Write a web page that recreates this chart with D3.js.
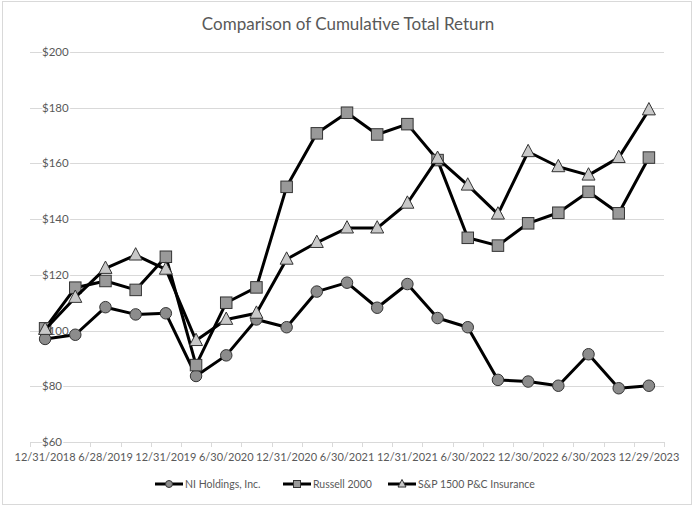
<!DOCTYPE html>
<html><head><meta charset="utf-8">
<script src="https://cdn.jsdelivr.net/npm/d3@7/dist/d3.min.js"></script>
<style>
body{margin:0;background:#fff;}
svg{display:block;font-family:Lato,"Open Sans",sans-serif;}
</style></head>
<body><svg id="c" width="694" height="508"></svg>
<script>
const dates = ["12/31/2018","3/29/2019","6/28/2019","9/30/2019","12/31/2019","3/31/2020","6/30/2020","9/30/2020","12/31/2020","3/31/2021","6/30/2021","9/30/2021","12/31/2021","3/31/2022","6/30/2022","9/30/2022","12/30/2022","3/31/2023","6/30/2023","9/29/2023","12/29/2023"];
const tickLabels = ["12/31/2018","6/28/2019","12/31/2019","6/30/2020","12/31/2020","6/30/2021","12/31/2021","6/30/2022","12/30/2022","6/30/2023","12/29/2023"];
const niHoldings = [97,98.5,108.4,105.8,106.2,83.7,91.1,104.0,101.2,114.0,117.2,108.2,116.7,104.5,101.2,82.3,81.7,80.2,91.5,79.3,80.2];
const russell2000 = [100.8,115.4,117.8,114.6,126.5,87.6,110.0,115.5,151.6,170.8,178.2,170.4,174.1,161.2,133.3,130.5,138.5,142.3,149.8,142.1,162.1];
const spInsurance = [100.4,111.9,122.3,127.1,122.0,96.4,104.0,106.2,125.6,131.6,136.8,136.8,145.7,161.8,152.2,141.8,164.2,158.8,155.8,162.1,179.2];
const yTicks = [60,80,100,120,140,160,180,200];
const seriesNames = ["NI Holdings, Inc.","Russell 2000","S&P 1500 P&C Insurance"];

(function(){
const svg = d3.select("#c");
const W=694,H=508;
const pL=30,pR=664,pT=52,pB=442;
const textColor="#595959", gridColor="#d9d9d9";

svg.append("rect").attr("x",2.5).attr("y",1.5).attr("width",W-5).attr("height",H-5)
  .attr("fill","#fff").attr("stroke","#d9d9d9").attr("stroke-width",1);

const x = d3.scaleBand().domain(dates).range([pL,pR]).padding(0);
const y = d3.scaleLinear().domain([60,200]).range([pB,pT]);
const cx = d => x(d)+x.bandwidth()/2;

svg.append("text").attr("x",348).attr("y",30).attr("text-anchor","middle")
  .attr("font-size",17).attr("fill",textColor).text("Comparison of Cumulative Total Return");

svg.append("g").selectAll("line").data(yTicks).join("line")
  .attr("x1",pL).attr("x2",pR).attr("y1",d=>Math.round(y(d))+0.5).attr("y2",d=>Math.round(y(d))+0.5)
  .attr("stroke",gridColor).attr("stroke-width",1);

const bounds = dates.map(d=>x(d)).concat([x.range()[1]]);
svg.append("g").selectAll("line").data(bounds).join("line")
  .attr("x1",d=>Math.round(d)+0.5).attr("x2",d=>Math.round(d)+0.5)
  .attr("y1",pB).attr("y2",pB+5).attr("stroke",gridColor);

svg.append("g").selectAll("text").data(yTicks).join("text")
  .attr("x",42).attr("y",d=>y(d)).attr("dy","0.35em")
  .attr("font-size",11.5).attr("fill",textColor)
  .attr("stroke","#fff").attr("stroke-width",3).attr("paint-order","stroke")
  .text(d=>"$"+d);

svg.append("g").selectAll("text").data(tickLabels).join("text")
  .attr("x",d=>cx(d)).attr("y",461).attr("text-anchor","middle")
  .attr("font-size",11).attr("fill",textColor).text(d=>d);

const line = d3.line().x((d,i)=>cx(dates[i])).y(d=>y(d));
const series = [
  {name:seriesNames[0], values:niHoldings, shape:"circle", fill:"#8c8c8c"},
  {name:seriesNames[1], values:russell2000, shape:"square", fill:"#999999"},
  {name:seriesNames[2], values:spInsurance, shape:"triangle", fill:"#c8c8c8"}
];
function marker(g, shape, px, py, s, fill){
  if(shape==="circle"){
    g.append("circle").attr("cx",px).attr("cy",py).attr("r",s/2)
      .attr("fill",fill).attr("stroke","#333").attr("stroke-width",1);
  } else if(shape==="square"){
    g.append("rect").attr("x",px-s/2).attr("y",py-s/2).attr("width",s).attr("height",s)
      .attr("fill",fill).attr("stroke","#333").attr("stroke-width",1);
  } else {
    const h=s*0.95;
    g.append("path").attr("d",`M${px},${py-h*0.6}L${px+s/2},${py+h*0.4}L${px-s/2},${py+h*0.4}Z`)
      .attr("fill",fill).attr("stroke","#333").attr("stroke-width",1);
  }
}
series.forEach(s=>{
  const g = svg.append("g");
  g.append("path").datum(s.values).attr("d",line).attr("fill","none")
    .attr("stroke","#000").attr("stroke-width",3).attr("stroke-linejoin","round");
  s.values.forEach((v,i)=>marker(g,s.shape,cx(dates[i]),y(v),s.shape==="triangle"?13:11.5,s.fill));
});

const legendX=[155,283,388];
series.forEach((s,i)=>{
  const g=svg.append("g");
  const lx=legendX[i], ly=484;
  g.append("line").attr("x1",lx).attr("x2",lx+28).attr("y1",ly).attr("y2",ly)
    .attr("stroke","#000").attr("stroke-width",3);
  marker(g,s.shape,lx+14,ly,s.shape==="triangle"?8:7,s.fill);
  g.append("text").attr("x",lx+30).attr("y",ly).attr("dy","0.35em")
    .attr("font-size",10.5).attr("fill",textColor).text(s.name);
});
})();
</script></body></html>
